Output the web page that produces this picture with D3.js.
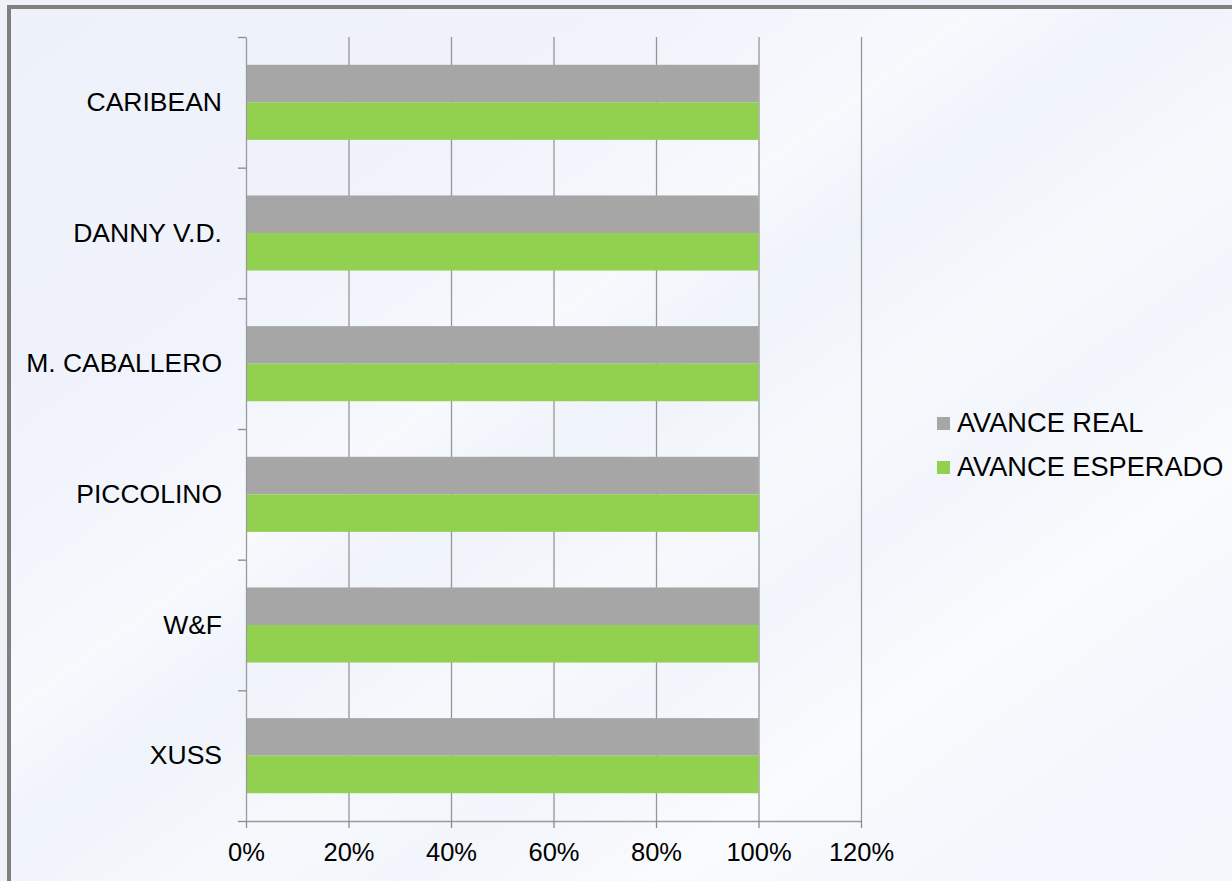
<!DOCTYPE html>
<html>
<head>
<meta charset="utf-8">
<script src="https://cdn.jsdelivr.net/npm/d3@7"></script>
<style>
  html, body { margin: 0; padding: 0; background: #eef1f7; }
  svg { display: block; }
  text { font-family: "Liberation Sans", Arial, sans-serif; fill: #000; }
</style>
</head>
<body>
<svg id="chart" width="1232" height="881"></svg>
<script>
// ---- data ----
const categories = ["CARIBEAN", "DANNY V.D.", "M. CABALLERO", "PICCOLINO", "W&F", "XUSS"];
const seriesNames = ["AVANCE REAL", "AVANCE ESPERADO"];
const avanceReal = [1, 1, 1, 1, 1, 1];
const avanceEsperado = [1, 1, 1, 1, 1, 1];
const xTickValues = [0, 0.2, 0.4, 0.6, 0.8, 1.0, 1.2];
const seriesColors = ["#a6a6a6", "#92d050"];

// ---- layout ----
const W = 1232, H = 881;
const plot = { left: 246, right: 861, top: 37, bottom: 821 };

const svg = d3.select("#chart");

// background gradient with soft diagonal streaks
const defs = svg.append("defs");
const grad = defs.append("linearGradient").attr("id", "bg")
  .attr("x1", "0%").attr("y1", "0%").attr("x2", "100%").attr("y2", "100%");
[[0, "#edf1fa"], [0.25, "#f0f3fb"], [0.38, "#f7f9fd"], [0.45, "#eff3fa"],
 [0.55, "#f6f9fc"], [0.62, "#f2f5fb"], [0.72, "#f9fbfd"], [0.85, "#f3f6fc"], [1, "#f5f7fd"]]
  .forEach(([o, c]) => grad.append("stop").attr("offset", o).attr("stop-color", c));

svg.append("rect").attr("x", 0).attr("y", 0).attr("width", W).attr("height", H).attr("fill", "#eef1f7");
svg.append("rect").attr("x", 9).attr("y", 7).attr("width", W + 50).attr("height", H + 50)
  .attr("fill", "url(#bg)").attr("stroke", "#7f7f7f").attr("stroke-width", 4);

// ---- scales ----
const x = d3.scaleLinear().domain([0, 1.2]).range([plot.left, plot.right]);
const y = d3.scaleBand().domain(categories).range([plot.top, plot.bottom]).padding(0);
const yEdge = d3.scaleLinear().domain([0, categories.length]).range([plot.top, plot.bottom]);
const ySub = d3.scaleBand().domain(seriesNames).range([0, y.bandwidth()]).paddingInner(0).paddingOuter(0.74);

// ---- gridlines ----
svg.append("g").attr("transform", `translate(0,${plot.bottom})`)
  .call(d3.axisBottom(x).tickValues(xTickValues.slice(1)).tickSize(-(plot.bottom - plot.top)).tickFormat(""))
  .call(g => g.select(".domain").remove())
  .call(g => g.selectAll("line").attr("stroke", "#969696").attr("stroke-width", 1.3));

// ---- bars ----
const rows = categories.map((c, i) => ({ cat: c, vals: [avanceReal[i], avanceEsperado[i]] }));
const grp = svg.append("g").selectAll("g").data(rows).join("g")
  .attr("transform", d => `translate(0,${y(d.cat)})`);
grp.selectAll("rect").data(d => d.vals.map((v, j) => ({ s: seriesNames[j], v, j })))
  .join("rect")
  .attr("x", x(0))
  .attr("y", d => ySub(d.s))
  .attr("width", d => x(d.v) - x(0))
  .attr("height", ySub.bandwidth())
  .attr("fill", d => seriesColors[d.j]);

// ---- y axis (ticks between categories) ----
svg.append("g").attr("transform", `translate(${plot.left},0)`)
  .call(d3.axisLeft(yEdge).tickValues(d3.range(categories.length + 1)).tickSize(8).tickSizeOuter(0).tickFormat(""))
  .call(g => g.select(".domain").attr("stroke", "#9a9a9a").attr("stroke-width", 1.3))
  .call(g => g.selectAll("line").attr("stroke", "#8a8a8a").attr("stroke-width", 1.3));

// category labels
svg.append("g").selectAll("text").data(categories).join("text")
  .attr("x", 222)
  .attr("y", d => y(d) + y.bandwidth() / 2)
  .attr("dy", "0.33em")
  .attr("text-anchor", "end")
  .style("font-size", "26.5px")
  .text(d => d);

// ---- x axis ----
svg.append("g").attr("transform", `translate(0,${plot.bottom})`)
  .call(d3.axisBottom(x).tickValues(xTickValues).tickSize(7).tickSizeOuter(0).tickPadding(15).tickFormat(d3.format(".0%")))
  .call(g => g.select(".domain").attr("stroke", "#9a9a9a").attr("stroke-width", 1.5))
  .call(g => g.selectAll("line").attr("stroke", "#8a8a8a").attr("stroke-width", 1.3))
  .call(g => g.selectAll("text").style("font-size", "25.5px").attr("font-family", "Liberation Sans, Arial, sans-serif").attr("fill", "#000"));

// ---- legend ----
const legend = svg.append("g").selectAll("g").data(seriesNames).join("g")
  .attr("transform", (d, i) => `translate(937,${417 + i * 44})`);
legend.append("rect").attr("width", 13).attr("height", 13).attr("fill", (d, i) => seriesColors[i]);
legend.append("text").attr("x", 20).attr("y", 6.5).attr("dy", "0.33em")
  .style("font-size", "27.2px").text(d => d);
</script>
</body>
</html>
